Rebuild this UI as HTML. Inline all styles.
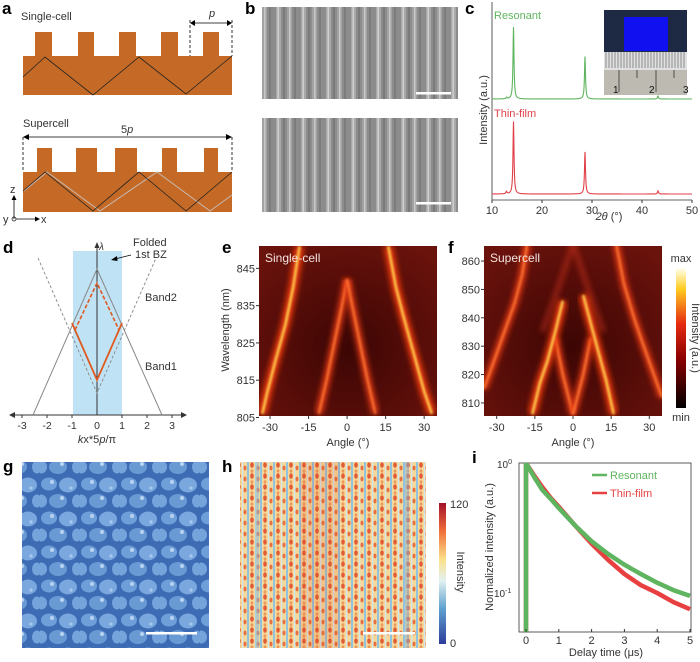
<!DOCTYPE html>
<html><head><meta charset="utf-8"><style>
body{margin:0;background:#fff}
svg{display:block;font-family:"Liberation Sans",sans-serif}
.pl{font-weight:bold;font-size:17px}
.t{font-size:11px;fill:#333}
</style></head><body>
<svg id="fig" width="700" height="662" viewBox="0 0 700 662" xmlns="http://www.w3.org/2000/svg">
<defs>
<filter id="blur3" x="-20%" y="-20%" width="140%" height="140%"><feGaussianBlur stdDeviation="3"/></filter>
<filter id="blur1"><feGaussianBlur stdDeviation="1"/></filter>
<linearGradient id="cbar" x1="0" y1="1" x2="0" y2="0">
<stop offset="0" stop-color="#000"/><stop offset="0.35" stop-color="#8a0000"/><stop offset="0.6" stop-color="#e62a10"/><stop offset="0.85" stop-color="#ffcc20"/><stop offset="1" stop-color="#fffff0"/></linearGradient>
<linearGradient id="hbar" x1="0" y1="1" x2="0" y2="0">
<stop offset="0" stop-color="#2b3c9b"/><stop offset="0.25" stop-color="#5fa0cf"/><stop offset="0.45" stop-color="#e2f2f0"/><stop offset="0.6" stop-color="#fbe08a"/><stop offset="0.8" stop-color="#f0703a"/><stop offset="1" stop-color="#a3102a"/></linearGradient>
<radialGradient id="hmbg" cx="0.5" cy="0.6" r="0.7"><stop offset="0" stop-color="#3c0604"/><stop offset="1" stop-color="#6a120c"/></radialGradient>
<pattern id="sem" width="25" height="40" patternUnits="userSpaceOnUse">
<rect width="25" height="40" fill="#8c8c8c"/><rect x="1" width="5" height="40" fill="#a8a8a8"/><rect x="2.5" width="1.5" height="40" fill="#cfcfcf"/><rect x="8" width="2" height="40" fill="#7a7a7a"/><rect x="12" width="5" height="40" fill="#a2a2a2"/><rect x="14" width="1.5" height="40" fill="#c8c8c8"/><rect x="19" width="2" height="40" fill="#7c7c7c"/></pattern>
<pattern id="grain" width="40" height="34" patternUnits="userSpaceOnUse">
<rect width="40" height="34" fill="#3d6bb4"/>
<ellipse cx="9" cy="8" rx="8" ry="6.5" fill="#6f9fd8"/><ellipse cx="28" cy="9" rx="9" ry="7.5" fill="#7aa8de"/>
<ellipse cx="18" cy="25" rx="9" ry="7" fill="#6a9ad4"/><ellipse cx="1" cy="25" rx="6" ry="6.5" fill="#74a4db"/><ellipse cx="37" cy="25" rx="5" ry="6.5" fill="#74a4db"/>
<circle cx="12" cy="6" r="2" fill="#b8d2f0"/><circle cx="22" cy="22" r="2" fill="#b8d2f0"/><circle cx="31" cy="12" r="1.6" fill="#a8c8ec"/></pattern>
<pattern id="pl" width="13" height="11" patternUnits="userSpaceOnUse">
<rect width="13" height="11" fill="#f4d89c"/><rect x="0" width="2" height="11" fill="#8fc3df"/><ellipse cx="5" cy="3" rx="1.8" ry="2.8" fill="#e25a36"/><ellipse cx="5" cy="9" rx="1.4" ry="1.8" fill="#f09a58"/><rect x="8" width="1.2" height="11" fill="#cfe6ee"/><ellipse cx="11" cy="6" rx="1.5" ry="2.4" fill="#e8703e"/></pattern>
</defs>

<!-- Panel a -->
<g>
<text class="pl" x="2" y="14">a</text>
<text class="t" x="21" y="20">Single-cell</text>
<path d="M23 56H35V32H52V56H78V32H94V56H119V32H136V56H161V32H178V56H203V32H219V56H232V95H23Z" fill="#c46a26"/>
<polyline points="23,77 45,57 93,95 139,57 186,94 232,56" fill="none" stroke="#222" stroke-width="0.8"/>
<line x1="190" y1="20" x2="190" y2="56" stroke="#000" stroke-dasharray="3,2" stroke-width="0.8"/>
<line x1="232" y1="20" x2="232" y2="56" stroke="#000" stroke-dasharray="3,2" stroke-width="0.8"/>
<line x1="192" y1="23" x2="230" y2="23" stroke="#000" stroke-width="0.8"/>
<path d="M190 23l5-3v6zM232 23l-5-3v6z" fill="#000"/>
<text class="t" x="209" y="17" font-style="italic">p</text>
<text class="t" x="23" y="127">Supercell</text>
<line x1="25" y1="137" x2="230" y2="137" stroke="#000" stroke-width="0.8"/>
<path d="M23 137l6-3v6zM232 137l-6-3v6z" fill="#000"/>
<text class="t" x="121" y="133">5<tspan font-style="italic">p</tspan></text>
<line x1="23" y1="137" x2="23" y2="172" stroke="#000" stroke-dasharray="3,2" stroke-width="0.8"/>
<line x1="232" y1="137" x2="232" y2="172" stroke="#000" stroke-dasharray="3,2" stroke-width="0.8"/>
<path d="M23 172H37V148H52V172H76V148H97V172H115V148H137V172H162V148H177V172H204V148H218V172H232V212H23Z" fill="#c46a26"/>
<polyline points="24,191 47,172 100,211 157,172 210,211 232,195" fill="none" stroke="#c8b8b0" stroke-width="1"/>
<polyline points="23,191 45,172 93,211 139,172 186,211 232,172" fill="none" stroke="#222" stroke-width="0.8"/>
<line x1="14" y1="219" x2="14" y2="198" stroke="#000" stroke-width="0.8"/><path d="M14 195l-2.5 5h5z"/>
<line x1="16" y1="219" x2="37" y2="219" stroke="#000" stroke-width="0.8"/><path d="M40 219l-5-2.5v5z"/>
<circle cx="14" cy="219" r="2" fill="none" stroke="#000" stroke-width="0.7"/>
<text class="t" x="10" y="193">z</text><text class="t" x="41" y="223">x</text><text class="t" x="3" y="223">y</text>
</g>

<!-- Panel b -->
<g>
<text class="pl" x="245" y="14">b</text>
<rect x="262" y="7" width="196" height="92" fill="url(#sem)"/>
<rect x="262" y="118" width="196" height="94" fill="url(#sem)"/>
<rect x="416" y="92" width="35" height="2.5" fill="#fff"/>
<rect x="416" y="202" width="35" height="2.5" fill="#fff"/>
</g>

<!-- Panel c -->
<g id="pc">
<text class="pl" x="465" y="14">c</text>
<line x1="492" y1="2" x2="492" y2="200" stroke="#333" stroke-width="0.8"/>
<line x1="492" y1="200" x2="692" y2="200" stroke="#333" stroke-width="0.8"/>
<text class="t" transform="translate(487,110) rotate(-90)" text-anchor="middle">Intensity (a.u.)</text>
<text class="t" x="609" y="220" text-anchor="middle"><tspan font-style="italic">2θ</tspan> (°)</text>
<text x="494" y="19" font-size="11" fill="#5fb45f">Resonant</text>
<text x="494" y="117" font-size="11" fill="#e04048">Thin-film</text>
<g>
<rect x="604" y="10" width="83" height="85" fill="#bdbab2"/>
<rect x="604" y="10" width="83" height="42" fill="#1e2a44"/>
<rect x="624" y="17" width="44" height="34" fill="#1010f0"/>
<rect x="604" y="52" width="83" height="18" fill="#e0e0e0"/>
<path d="M606 52v16M609 52v16M612 52v16M615 52v16M618 52v16M621 52v16M624 52v16M627 52v16M630 52v16M633 52v16M636 52v16M639 52v16M642 52v16M645 52v16M648 52v16M651 52v16M654 52v16M657 52v16M660 52v16M663 52v16M666 52v16M669 52v16M672 52v16M675 52v16M678 52v16M681 52v16M684 52v16" stroke="#555" stroke-width="0.6"/>
<path d="M619 70v22M637 70v8M656 70v22M674 70v8" stroke="#333" stroke-width="0.8"/>
<text x="613" y="93" font-size="10" fill="#111">1</text><text x="649" y="93" font-size="10" fill="#111">2</text><text x="683" y="93" font-size="10" fill="#111">3</text>
</g>
</g>

<!-- Panel d -->
<g>
<text class="pl" x="3" y="253">d</text>
<rect x="73" y="251" width="49" height="164" fill="#bfe2f4"/>
<line x1="12" y1="415" x2="184" y2="415" stroke="#333" stroke-width="1"/>
<path d="M9 415l6-3v6zM187 415l-6-3v6z" fill="#333"/>
<line x1="97" y1="415" x2="97" y2="245" stroke="#333" stroke-width="1"/><path d="M97 242l-2.5 6h5z" fill="#333"/>
<text x="99" y="250" font-size="10" font-style="italic" fill="#333">λ</text>
<polyline points="33,415 97,269 162,415" fill="none" stroke="#888" stroke-width="1"/>
<polyline points="38,258 97,393 156,258" fill="none" stroke="#888" stroke-width="0.9" stroke-dasharray="3,2"/>
<polyline points="75,330 97,283 119,330" fill="none" stroke="#e05a20" stroke-width="1.6" stroke-dasharray="4,2"/>
<polyline points="72,323 75,330 97,380 119,330 122,323" fill="none" stroke="#e05a20" stroke-width="1.8"/>
<text class="t" x="133" y="246">Folded</text><text class="t" x="135" y="258">1st BZ</text>
<line x1="131" y1="255" x2="115" y2="259" stroke="#000" stroke-width="0.8"/><path d="M111 260l6-4 0.5 5z"/>
<text class="t" x="145" y="301">Band2</text>
<text class="t" x="145" y="370">Band1</text>
<g font-size="10.5" fill="#333" text-anchor="middle">
<text x="22" y="429">-3</text><text x="47" y="429">-2</text><text x="72" y="429">-1</text><text x="97" y="429">0</text><text x="122" y="429">1</text><text x="147" y="429">2</text><text x="172" y="429">3</text></g>
<path d="M22 415v3M47 415v3M72 415v3M122 415v3M147 415v3M172 415v3" stroke="#333"/>
<text class="t" x="97" y="443" text-anchor="middle"><tspan font-style="italic">k</tspan>x*5<tspan font-style="italic">p</tspan>/π</text>
</g>

<!-- Panel e -->
<g id="pe">
<text class="pl" x="222" y="253">e</text>
<text class="t" transform="translate(229,330) rotate(-90)" text-anchor="middle">Wavelength (nm)</text>
<text class="t" x="348" y="446" text-anchor="middle">Angle (°)</text>
</g>
<!-- Panel f -->
<g id="pf">
<text class="pl" x="448" y="253">f</text>
<text class="t" x="573" y="446" text-anchor="middle">Angle (°)</text>
<rect x="676" y="268" width="10" height="140" fill="url(#cbar)"/>
<text class="t" x="681" y="262" text-anchor="middle">max</text>
<text class="t" x="681" y="421" text-anchor="middle">min</text>
<text class="t" transform="translate(692,338) rotate(90)" text-anchor="middle">Intensity (a.u.)</text>
</g>

<!-- Panel g -->
<g>
<text class="pl" x="3" y="472">g</text>
<rect x="22" y="462" width="187" height="186" fill="url(#grain)"/>
<rect x="146" y="632" width="51" height="2.5" fill="#fff"/>
</g>

<!-- Panel h -->
<g>
<text class="pl" x="222" y="472">h</text>
<rect x="240" y="462" width="186" height="186" fill="url(#pl)"/>
<rect x="300" y="462" width="40" height="186" fill="#e0502a" opacity="0.15"/>
<rect x="255" y="462" width="4" height="186" fill="#7fb8dc" opacity="0.5"/>
<rect x="405" y="462" width="4" height="186" fill="#7fb8dc" opacity="0.5"/>
<rect x="363" y="632" width="52" height="2.5" fill="#fff"/>
<rect x="439" y="503" width="7" height="141" fill="url(#hbar)"/>
<text class="t" x="450" y="508">120</text><text class="t" x="450" y="647">0</text>
<text class="t" transform="translate(457,572) rotate(90)" text-anchor="middle">Intensity</text>
</g>

<!-- Panel i -->
<g id="pi">
<text class="pl" x="472" y="463">i</text>
<rect x="519" y="463" width="172" height="169" fill="none" stroke="#333" stroke-width="0.8"/>
<text class="t" transform="translate(493,547) rotate(-90)" text-anchor="middle">Normalized intensity (a.u.)</text>
<text class="t" x="606" y="656" text-anchor="middle">Delay time (μs)</text>
<text x="497" y="468" font-size="10" fill="#333">10<tspan font-size="7" dy="-4">0</tspan></text>
<text x="494" y="597" font-size="10" fill="#333">10<tspan font-size="7" dy="-4">-1</tspan></text>
<line x1="592" y1="475" x2="607" y2="475" stroke="#5fb45f" stroke-width="2.5"/>
<text x="610" y="479" font-size="11" fill="#5fb45f">Resonant</text>
<line x1="592" y1="493" x2="607" y2="493" stroke="#e84040" stroke-width="2.5"/>
<text x="610" y="497" font-size="11" fill="#e84040">Thin-film</text>
</g>
</svg>
<script>
const NS="http://www.w3.org/2000/svg";
// ---- Panel c data ----
const xrdPeaks=[12.9,14.3,28.6,43.2];
const xrdResonant=[0.02,1.0,0.59,0.04];
const xrdThinFilm=[0.03,0.93,0.54,0.04];
const xrdTicks=[10,20,30,40,50];
// ---- Panel e data ----
const eTicksY=[805,815,825,835,845];
const eTicksX=[-30,-15,0,15,30];
const eBandLeftOuter=[[-18.5,851],[-21,840],[-24,830],[-28,820],[-31,812],[-33,806]];
const eBandRightOuter=[[16,851],[19,840],[22,832],[26,822],[30,812],[33,806]];
const eBandLeftInner=[[0,842],[-2,835],[-5,825],[-8,815],[-11,806]];
const eBandRightInner=[[0,842],[2,835],[5,825],[8,815],[11,806]];
// ---- Panel f data ----
const fTicksY=[810,820,830,840,850,860];
const fTicksX=[-30,-15,0,15,30];
const fBandLeftOuter=[[-35,815],[-31,825],[-27,835],[-23,845],[-20,855],[-18,866]];
const fBandRightOuter=[[35,812],[31,822],[27,832],[24,840],[20,852],[17,866]];
const fBandLeftInner=[[-4,846],[-7,835],[-10,825],[-13,817],[-16,806]];
const fBandRightInner=[[4,848],[7,838],[10,828],[13,818],[16,806]];
const fVLeft=[[0,806],[-4,820],[-7,833]];
const fVRight=[[0,806],[4,820],[7,833]];
const fTopLeft=[[0,866],[-6,850],[-12,835]];
const fTopRight=[[0,866],[6,850],[12,835]];
// ---- Panel i data ----
const decayTime=[0,0.25,0.5,0.75,1,1.5,2,2.5,3,3.5,4,4.5,5];
const decayResonant=[1,0.78,0.62,0.53,0.45,0.33,0.25,0.2,0.165,0.14,0.12,0.105,0.095];
const decayThinFilm=[1,0.8,0.65,0.54,0.46,0.33,0.24,0.18,0.14,0.115,0.1,0.085,0.075];
const decayTicks=[0,1,2,3,4,5];

function mk(tag,attrs,parent){const e=document.createElementNS(NS,tag);for(const k in attrs)e.setAttribute(k,attrs[k]);parent.appendChild(e);return e;}

// Panel c
(function(){
 const g=document.getElementById('pc');
 const xs=v=>492+(v-10)*5;
 function spectrum(h,base,scale,color,name){
  let d='';
  for(let t=10;t<=50;t+=0.05){
   let y=0;for(let i=0;i<xrdPeaks.length;i++){const w=0.12;y+=h[i]/(1+((t-xrdPeaks[i])/w)**2);}
   d+=(d?'L':'M')+xs(t).toFixed(2)+' '+(base-y*scale).toFixed(2);
  }
  const p=mk('path',{d:d,fill:'none',stroke:color,'stroke-width':1.1},g);
  
  
 }
 spectrum(xrdResonant,99,72,'#5fb45f','xrd-resonant-line');
 spectrum(xrdThinFilm,194,78,'#e04048','xrd-thin-film-line');
 xrdTicks.forEach(v=>{mk('line',{x1:xs(v),x2:xs(v),y1:200,y2:203,stroke:'#333'},g);
  const t=mk('text',{x:xs(v),y:214,'text-anchor':'middle','font-size':11,fill:'#333'},g);t.textContent=v;
  
  });
})();

function heatmap(gid,x0,x1,y0,y1,a0,a1,w0,w1,ticksX,ticksY,bright,medium,faint,label){
 const g=document.getElementById(gid);
 const xs=a=>x0+(a-a0)/(a1-a0)*(x1-x0);
 const ys=w=>y1-(w-w0)/(w1-w0)*(y1-y0);
 const cid='clip'+gid;
 const cp=mk('clipPath',{id:cid},g);mk('rect',{x:x0,y:y0,width:x1-x0,height:y1-y0},cp);
 const bg=mk('rect',{x:x0,y:y0,width:x1-x0,height:y1-y0,fill:'url(#hmbg)'},g);
 
 
 const cg=mk('g',{'clip-path':'url(#'+cid+')'},g);
 const pts=a=>a.map(p=>xs(p[0]).toFixed(1)+','+ys(p[1]).toFixed(1)).join(' ');
 faint.forEach(a=>{mk('polyline',{points:pts(a),fill:'none',stroke:'#c8301a','stroke-width':5,filter:'url(#blur3)',opacity:0.6},cg);});
 medium.forEach(a=>{mk('polyline',{points:pts(a),fill:'none',stroke:'#e83a18','stroke-width':7,filter:'url(#blur3)'},cg);
  const l=mk('polyline',{points:pts(a),fill:'none',stroke:'#ff7a30','stroke-width':2,filter:'url(#blur1)'},cg);
  
  });
 bright.forEach(a=>{mk('polyline',{points:pts(a),fill:'none',stroke:'#f03a10','stroke-width':9,filter:'url(#blur3)'},cg);
  const l=mk('polyline',{points:pts(a),fill:'none',stroke:'#ffd850','stroke-width':2.4,filter:'url(#blur1)'},cg);
  
  });
 const tl=mk('text',{x:x0+6,y:y0+16,'font-size':12,fill:'#f4e4e0'},g);tl.textContent=label;
 
 
 ticksX.forEach(v=>{mk('line',{x1:xs(v),x2:xs(v),y1:y1,y2:y1+3,stroke:'#333'},g);
  const t=mk('text',{x:xs(v),y:y1+15,'text-anchor':'middle','font-size':11,fill:'#333'},g);t.textContent=v;
  
  });
 ticksY.forEach(v=>{mk('line',{x1:x0-3,x2:x0,y1:ys(v),y2:ys(v),stroke:'#333'},g);
  const t=mk('text',{x:x0-4,y:ys(v)+4,'text-anchor':'end','font-size':11,fill:'#333'},g);t.textContent=v;
  
  });
}
heatmap('pe',259,437,246,416,-34.3,35,805.4,851,eTicksX,eTicksY,
 [eBandLeftOuter,eBandRightOuter],[eBandLeftInner,eBandRightInner],[],'Single-cell');
heatmap('pf',484,662,246,416,-35,35,805.4,865.3,fTicksX,fTicksY,
 [fBandLeftInner,fBandRightInner],[fBandLeftOuter,fBandRightOuter,fVLeft,fVRight],[fTopLeft,fTopRight],'Supercell');

// Panel i
(function(){
 const g=document.getElementById('pi');
 const xs=t=>526+t*32.8;
 const ys=v=>463-Math.log10(v)*130;
 const cp=mk('clipPath',{id:'clipi'},g);mk('rect',{x:519,y:463,width:172,height:169},cp);
 const cg=mk('g',{'clip-path':'url(#clipi)'},g);
 function line(vals,color,name,w){
  let pts=xs(0)+','+632+' ';
  pts+=decayTime.map((t,i)=>xs(t).toFixed(1)+','+ys(vals[i]).toFixed(1)).join(' ');
  const p=mk('polyline',{points:pts,fill:'none',stroke:color,'stroke-width':w,'stroke-linejoin':'round'},cg);
  
  
 }
 line(decayThinFilm,'#e84040','decay-thin-film-line',4.5);
 line(decayResonant,'#5fb45f','decay-resonant-line',4.5);
 decayTicks.forEach(v=>{mk('line',{x1:xs(v),x2:xs(v),y1:632,y2:629,stroke:'#333'},g);
  const t=mk('text',{x:xs(v),y:644,'text-anchor':'middle','font-size':11,fill:'#333'},g);t.textContent=v;
  
  });
})();
</script>
</body></html>
